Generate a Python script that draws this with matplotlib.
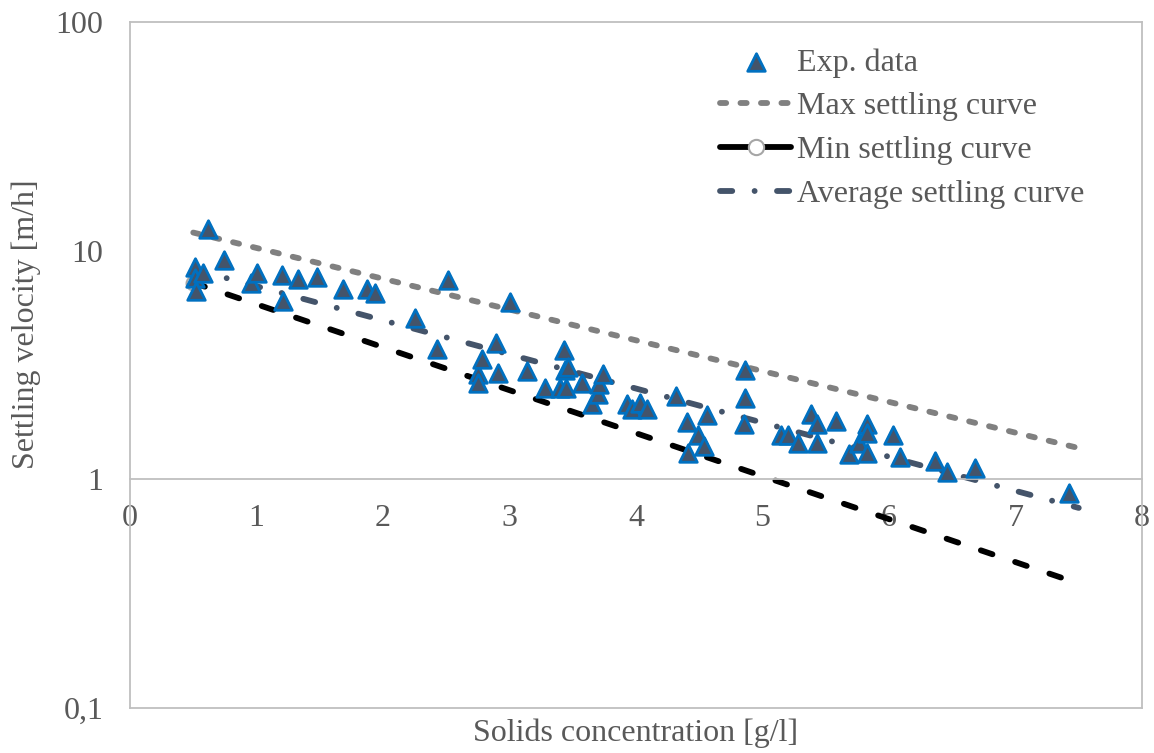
import numpy as np
import matplotlib.pyplot as plt
from matplotlib.lines import Line2D

plt.rcParams['font.family'] = ['Liberation Serif', 'DejaVu Serif']

# experimental settling data
conc = [0.51, 0.51, 0.52, 0.58, 0.62, 0.74, 0.96, 1.00, 1.20, 1.21, 1.33, 1.48,
        1.68, 1.87, 1.94, 2.25, 2.43, 2.51, 2.75, 2.75, 2.78, 2.89, 2.91, 3.00,
        3.14, 3.28, 3.40, 3.43, 3.44, 3.45, 3.46, 3.57, 3.65, 3.70, 3.71, 3.74,
        3.93, 3.97, 4.03, 4.09, 4.32, 4.40, 4.41, 4.49, 4.54, 4.56, 4.85, 4.86,
        4.86, 5.15, 5.20, 5.28, 5.38, 5.43, 5.43, 5.58, 5.68, 5.76, 5.83, 5.83,
        5.83, 6.03, 6.09, 6.36, 6.46, 6.68, 7.42]
vel = [8.51, 7.62, 6.68, 8.01, 12.5, 9.13, 7.24, 8.00, 7.85, 6.04, 7.54, 7.69,
       6.81, 6.81, 6.54, 5.08, 3.72, 7.46, 2.89, 2.64, 3.36, 3.95, 2.92, 5.97,
       2.98, 2.51, 2.51, 3.68, 3.00, 2.51, 3.10, 2.64, 2.13, 2.36, 2.61, 2.89,
       2.13, 2.03, 2.15, 2.03, 2.31, 1.78, 1.31, 1.57, 1.40, 1.91, 1.74, 2.27,
       3.01, 1.57, 1.57, 1.44, 1.93, 1.74, 1.44, 1.80, 1.29, 1.44, 1.74, 1.59,
       1.31, 1.57, 1.25, 1.20, 1.08, 1.12, 0.87]

# fitted curves (straight on log axis -> end points only)
curve_x = [0.5, 7.5]
max_v = [12.0, 1.37]
min_v = [7.24, 0.35]
avg_v = [8.3, 0.75]

grey_txt = '#595959'
axis_col = '#BFBFBF'
fs = 23
lw = 4.2

fig = plt.figure(figsize=(11.54, 7.53), dpi=100)
ax = fig.add_axes([130/1154, 45/753, 1012/1154, 686/753])

lmax, = ax.plot(curve_x, max_v, color='#808080', lw=lw, dashes=(1.06, 2.45),
                dash_capstyle='round', zorder=2)
ax.plot(curve_x, min_v, color='black', lw=lw, dashes=(2.1, 4.1),
        dash_capstyle='round', zorder=2)
ax.plot(curve_x[:1], min_v[:1], ls='none', marker='o', ms=10, mfc='white',
        mec='#A6A6A6', mew=1.5, zorder=2)
lavg, = ax.plot(curve_x, avg_v, color='#44546A', lw=lw,
                dashes=(2.1, 3.83, 0.01, 3.83), dash_capstyle='round', zorder=2)
pts = ax.scatter(conc, vel, marker='^', s=160, facecolor='#44546A',
                 edgecolor='#0070C0', linewidth=2, zorder=3)

ax.set_yscale('log')
ax.set_ylim(0.1, 100)
ax.set_xlim(0, 8)
ax.set_yticks([0.1, 1, 10, 100])
ax.set_yticklabels(['0,1', '1', '10', '100'])
ax.set_xticks(range(0, 9))
ax.minorticks_off()

for s in ax.spines.values():
    s.set_color(axis_col)
    s.set_linewidth(1.3)
ax.spines['bottom'].set_position(('data', 1))
ax.axhline(0.1, color=axis_col, lw=1.3, clip_on=False)
ax.tick_params(length=0, labelsize=fs, labelcolor=grey_txt)
ax.tick_params(axis='y', pad=19)
ax.tick_params(axis='x', pad=18)

ax.set_xlabel('Solids concentration [g/l]', fontsize=fs, color=grey_txt)
ax.xaxis.set_label_coords(0.5, -0.016)
ax.set_ylabel('Settling velocity [m/h]', fontsize=fs, color=grey_txt)
ax.yaxis.set_label_coords(-0.088, 0.56)

# legend key for the min curve: line with the open circle in the middle
min_handle = Line2D([], [], color='black', lw=lw, solid_capstyle='round',
                    marker='o', ms=11, mfc='white', mec='#A6A6A6', mew=1.5)
leg = ax.legend([pts, lmax, min_handle, lavg],
                ['Exp. data', 'Max settling curve', 'Min settling curve',
                 'Average settling curve'],
                loc='upper left', bbox_to_anchor=(0.555, 1.004), frameon=False,
                fontsize=fs, labelspacing=0.45, handlelength=2.2,
                handletextpad=0.2, scatterpoints=1, numpoints=1)
for t in leg.get_texts():
    t.set_color(grey_txt)

fig.savefig('out.png', dpi=100)
